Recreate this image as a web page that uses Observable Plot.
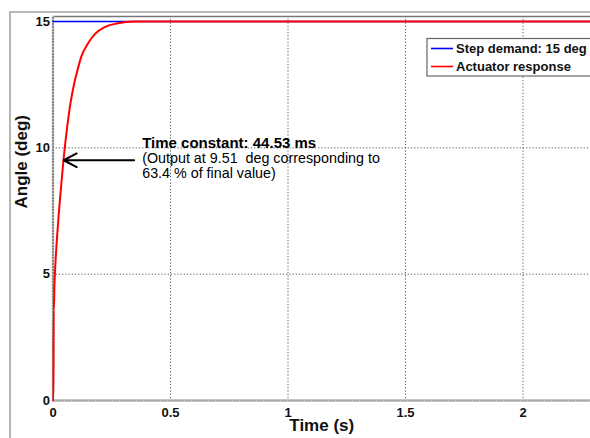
<!DOCTYPE html>
<html><head><meta charset="utf-8">
<script src="https://cdn.jsdelivr.net/npm/d3@7"></script>
<script src="https://cdn.jsdelivr.net/npm/@observablehq/plot@0.6"></script>
<style>
html,body{margin:0;padding:0;background:#fff;overflow:hidden;}
#chart{position:relative;width:590px;height:438px;overflow:hidden;}
#chart svg [aria-label="x-axis tick label"] text,
#chart svg [aria-label="y-axis tick label"] text{font-weight:bold;}
</style></head><body><div id="chart"></div>
<script>
// ---- data ----
const responseTime  = [0, 0.002, 0.003, 0.004, 0.006, 0.008, 0.012, 0.016, 0.023, 0.030, 0.0445, 0.060, 0.075, 0.088, 0.105, 0.120, 0.150, 0.180, 0.220, 0.270, 0.350, 2.3];
const responseAngle = [0, 0,     3.6,   3.6,   4.5,   5.0,   5.7,   6.3,   7.2,   8.0,   9.51,   10.8,  11.8,  12.45, 13.1,  13.6,  14.15, 14.52, 14.78, 14.92, 15.0,  15.0];
const demandTime  = [0, 2.3];
const demandAngle = [15, 15];
const xTicks = [0, 0.5, 1, 1.5, 2];
const yTicks = [0, 5, 10, 15];
const legendLabels = ["Step demand: 15 deg", "Actuator response"];
const legendColors = ["#0000ff", "#ff0000"];
const tauTime = 0.04453, tauAngle = 9.51;
const noteLines = ["Time constant: 44.53 ms", "(Output at 9.51  deg corresponding to", "63.4 % of final value)"];

const response = responseTime.map((t, i) => ({t, a: responseAngle[i]}));
const demand = demandTime.map((t, i) => ({t, a: demandAngle[i]}));
const font = "'Liberation Sans', Arial, Helvetica, sans-serif";

const plot = Plot.plot({
  width: 590, height: 438,
  marginLeft: 52.5, marginTop: 16, marginBottom: 38, marginRight: 0,
  x: {domain: [0, 2.3], range: [52.5, 593]},
  y: {domain: [0, 15.2], range: [400, 16]},
  style: {fontFamily: font, background: "#fff", color: "#111"},
  marks: [
    Plot.ruleX(xTicks.filter(d => d > 0), {stroke: "#555", strokeDasharray: "1.2,2", strokeWidth: 1}),
    Plot.ruleY(yTicks.filter(d => d > 0), {stroke: "#555", strokeDasharray: "1.2,2", strokeWidth: 1}),
    Plot.ruleY([15.2], {stroke: "#777", strokeWidth: 1.3}),
    Plot.ruleX([0], {stroke: "#8c8c8c", strokeWidth: 2.2}),
    Plot.ruleY([0], {stroke: "#8c8c8c", strokeWidth: 2.2}),
    Plot.ruleX([0], {stroke: "#e8e8e8", strokeDasharray: "1,2", strokeWidth: 1}),
    Plot.ruleY([0], {stroke: "#e8e8e8", strokeDasharray: "1,2", strokeWidth: 1}),
    Plot.axisX(xTicks, {tickSize: 0, tickPadding: 7, fontSize: 13, fontWeight: "bold", label: null, tickFormat: d => String(d)}),
    Plot.axisY(yTicks, {tickSize: 0, tickPadding: 3, fontSize: 13, fontWeight: "bold", label: null, tickFormat: d => String(d)}),
    Plot.text(["Time (s)"], {frameAnchor: "bottom", dy: 30, fontSize: 17, fontWeight: "bold"}),
    Plot.text(["Angle (deg)"], {frameAnchor: "left", dx: -31, rotate: -90, fontSize: 17, fontWeight: "bold"}),
    Plot.line(demand, {x: "t", y: "a", stroke: legendColors[0], strokeWidth: 1.6}),
    Plot.line(response, {x: "t", y: "a", stroke: legendColors[1], strokeWidth: 2, curve: "monotone-x"}),
    Plot.arrow([{x1: 0.345, x2: tauTime + 0.001, y: tauAngle}], {x1: "x1", x2: "x2", y1: "y", y2: "y", stroke: "#000", strokeWidth: 2, headLength: 11, headAngle: 55}),
    Plot.text([noteLines[0]], {x: 0.3796, y: 10.19, textAnchor: "start", fontSize: 15, fontWeight: "bold", fill: "#000"}),
    Plot.text([noteLines[1]], {x: 0.3796, y: 9.60, textAnchor: "start", fontSize: 14.3, fill: "#000"}),
    Plot.text([noteLines[2]], {x: 0.3796, y: 8.97, textAnchor: "start", fontSize: 14.3, fill: "#000"})
  ]
});
document.getElementById("chart").appendChild(plot);

// outer figure border and legend
const svg = d3.select(plot);
svg.append("path").attr("d", "M10,438 L10,12 L600,12").attr("fill", "none").attr("stroke", "#a3a3a3").attr("stroke-width", 1.6);
const lg = svg.append("g");
lg.append("rect").attr("x", 427).attr("y", 38.5).attr("width", 180).attr("height", 37.5)
  .attr("fill", "#fff").attr("stroke", "#666").attr("stroke-width", 1.2);
legendLabels.forEach((lab, i) => {
  const cy = 48.5 + i * 18;
  lg.append("line").attr("x1", 431).attr("x2", 453).attr("y1", cy).attr("y2", cy)
    .attr("stroke", legendColors[i]).attr("stroke-width", 1.6);
  lg.append("text").attr("x", 456).attr("y", cy).attr("dy", "0.36em").attr("text-anchor", "start")
    .attr("font-family", font).attr("font-size", 13).attr("font-weight", "bold").attr("fill", "#111").text(lab);
});
</script></body></html>
